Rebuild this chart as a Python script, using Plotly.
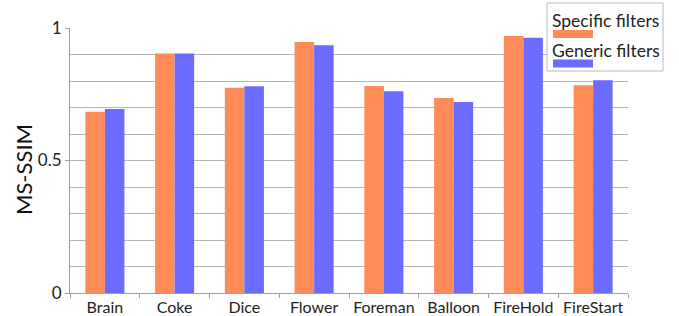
import plotly.graph_objects as go

categories = ["Brain", "Coke", "Dice", "Flower", "Foreman", "Balloon", "FireHold", "FireStart"]
specific = [0.684, 0.904, 0.775, 0.947, 0.781, 0.736, 0.970, 0.784]
generic = [0.694, 0.904, 0.780, 0.935, 0.761, 0.721, 0.963, 0.803]
series_names = ["Specific filters", "Generic filters"]
colors = ["#FF8B58", "#6B6BFF"]
y_ticks = [0, 0.5, 1]
y_tick_text = ["0", "0.5", "1"]
y_title = "MS-SSIM"

FONT = "Lato"

fig = go.Figure()
for name, vals, col in zip(series_names, [specific, generic], colors):
    fig.add_trace(go.Bar(x=categories, y=vals, name=name, marker=dict(color=col, line=dict(width=0))))

fig.update_layout(
    width=679, height=316,
    margin=dict(l=70, r=51, t=28, b=23),
    barmode="group", bargap=0.44, bargroupgap=0,
    plot_bgcolor="white", paper_bgcolor="white",
    showlegend=False,
    font=dict(family=FONT, color="#222222", size=15),
)
fig.update_xaxes(
    automargin=False, tickangle=0,
    showline=True, linecolor="#a0a0a0", linewidth=1,
    ticks="outside", tickson="boundaries", ticklen=4, tickcolor="#a0a0a0",
    tickfont=dict(size=16, family=FONT, color="#222222"),
    showgrid=False,
)
fig.update_yaxes(
    automargin=False,
    range=[0, 1], tickvals=y_ticks, ticktext=y_tick_text,
    showline=True, linecolor="#a0a0a0", linewidth=1,
    ticks="outside", ticklen=4, tickcolor="#a0a0a0",
    tickfont=dict(size=17, family=FONT, color="#222222"),
    showgrid=True, gridcolor="#b4b4b4", gridwidth=1,
    minor=dict(dtick=0.1, showgrid=True, gridcolor="#b4b4b4", gridwidth=1),
    zeroline=False,
)

# y-axis title as rotated annotation
fig.add_annotation(xref="paper", yref="paper", x=(23.5-70)/558, y=(293-169.5)/265, text=y_title,
                   textangle=-90, showarrow=False, xanchor="center", yanchor="middle",
                   font=dict(size=22, family=FONT, color="#111111"))

# custom legend box (top right), text above colour swatch
fig.add_shape(type="rect", xref="paper", yref="paper", x0=(547-70)/558, x1=(663-70)/558,
              y0=(293-71)/265, y1=(293-3)/265, line=dict(color="#b8b8b8", width=1), fillcolor="white", layer="above")
for i, (name, col) in enumerate(zip(series_names, colors)):
    ty = 20.5 + i * 30
    fig.add_annotation(xref="paper", yref="paper", x=(550-70)/558, y=(293-ty)/265, text=name,
                       showarrow=False, xanchor="left", yanchor="middle",
                       font=dict(size=17.5, family=FONT, color="#222222"))
    sy = 34 + i * 29.5
    fig.add_shape(type="rect", xref="paper", yref="paper", x0=(553-70)/558, x1=(593-70)/558,
                  y0=(293-sy-4)/265, y1=(293-sy+4)/265, line=dict(width=0), fillcolor=col, layer="above")

fig.write_html("out.html", config={"displayModeBar": False},
               post_script="document.body.style.margin='0';document.body.style.overflow='hidden';")
